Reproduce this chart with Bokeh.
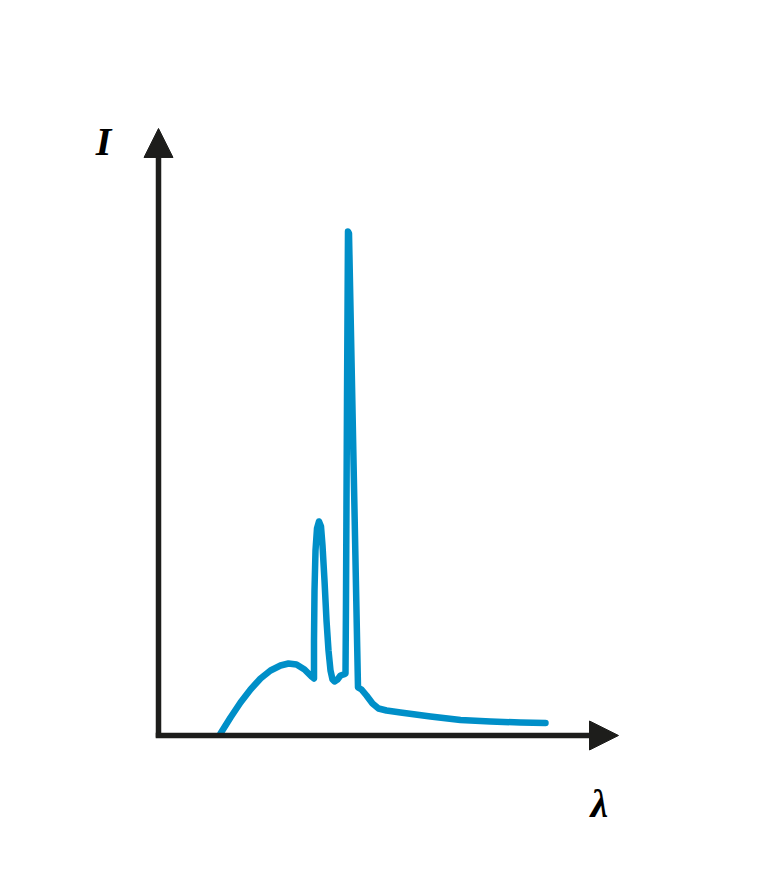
from bokeh.plotting import figure
from bokeh.models import Range1d, Arrow, NormalHead, Label
from bokeh.embed import file_html
from bokeh.resources import INLINE

# Spectrum: wavelength (arbitrary units) vs intensity (arbitrary units)
wavelength = [12.4, 14.4, 16.4, 18.4, 20.4, 22.4, 24.4, 26.0, 27.6, 29.2, 30.6, 31.1,
              31.1, 31.2, 31.4, 31.7, 32.1, 32.5, 32.8, 33.2, 33.6, 34.0, 34.4, 34.8,
              35.2, 35.8, 36.4, 37.0, 37.4, 37.5, 37.7, 37.9, 38.1, 39.16, 39.9, 40.6,
              41.6, 42.8, 44.0, 45.6, 48.4, 54.4, 60.4, 66.4, 72.4, 77.4]
intensity = [0.33, 3.0, 5.5, 7.67, 9.5, 10.83, 11.67, 12.0, 11.83, 11.0, 9.83, 9.5,
             15.83, 24.17, 30.83, 34.5, 35.67, 34.83, 31.67, 25.83, 19.17, 14.17, 10.83, 9.33,
             9.0, 9.33, 10.0, 10.17, 10.33, 22.5, 55.83, 84.0, 83.67, 39.17, 8.0, 7.67,
             6.67, 5.33, 4.5, 4.17, 3.83, 3.17, 2.58, 2.33, 2.17, 2.08]

x_axis_end = 92.0
y_axis_end = 101.17
y_label = "I"
x_label = "λ"

p = figure(width=746, height=859, output_backend="svg", toolbar_location=None,
           x_range=Range1d(-31.6, 117.6), y_range=Range1d(-20.667, 122.5),
           min_border=0, x_axis_location=None, y_axis_location=None)
p.grid.visible = False
p.outline_line_color = None
p.background_fill_color = "white"
p.border_fill_color = "white"

axis_color = "#1d1d1b"
p.add_layout(Arrow(x_start=0, y_start=-0.35, x_end=0, y_end=y_axis_end,
                   line_width=5.5, line_color=axis_color,
                   end=NormalHead(size=29, fill_color=axis_color, line_color=axis_color, line_width=1)))
p.add_layout(Arrow(x_start=-0.55, y_start=0, x_end=x_axis_end, y_end=0,
                   line_width=5.5, line_color=axis_color,
                   end=NormalHead(size=29, fill_color=axis_color, line_color=axis_color, line_width=1)))

p.line(wavelength, intensity, line_width=6.5, line_color="#008fc8",
       line_join="round", line_cap="round")

p.add_layout(Label(x=-11, y=99, text=y_label, text_font="Liberation Serif",
                   text_font_size="40px", text_font_style="bold italic",
                   text_align="center", text_baseline="middle", text_color="black"))
p.add_layout(Label(x=88.2, y=-11.33, text=x_label, text_font="Liberation Serif",
                   text_font_size="40px", text_font_style="bold italic",
                   text_align="center", text_baseline="middle", text_color="black"))

open("out.html", "w").write(file_html(p, INLINE))
